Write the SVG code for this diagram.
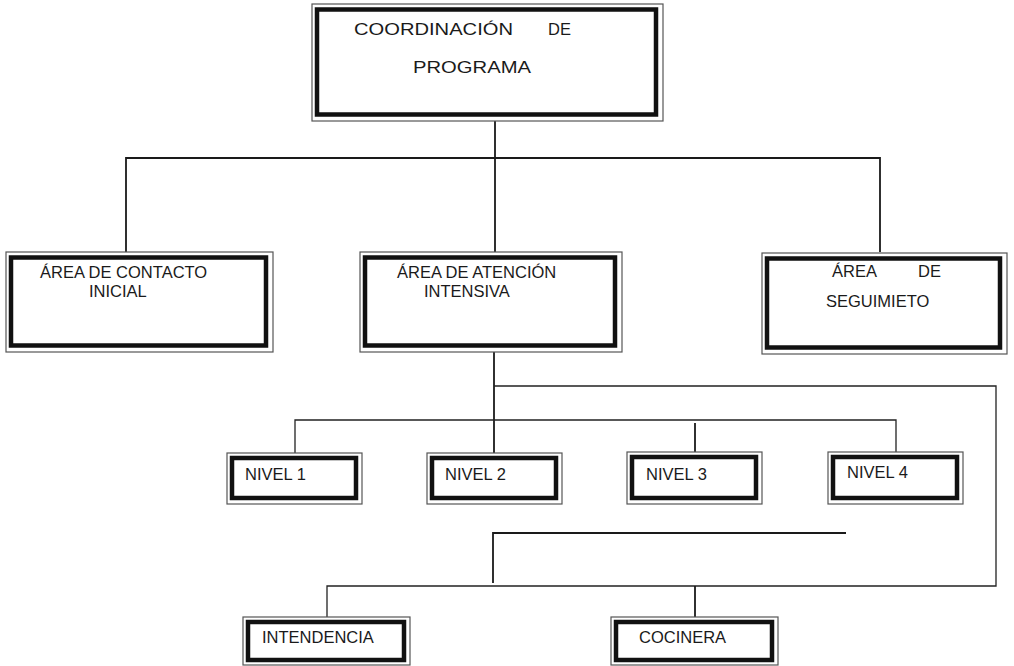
<svg xmlns="http://www.w3.org/2000/svg" width="1014" height="666" viewBox="0 0 1014 666">
<style>
.outer{fill:#fff;stroke:#555;stroke-width:1.2}
.inner{fill:#fff;stroke:#111;stroke-width:4.5}
.t{font-family:"Liberation Sans",Arial,sans-serif;font-size:16.5px;fill:#1a1a1a}
.c{fill:none;stroke:#1a1a1a;stroke-width:1.8}
.c2{fill:none;stroke:#222;stroke-width:1.3}
</style>
<rect width="1014" height="666" fill="#fff"/>
<g id="connectors">
<path class="c" d="M495 121V252M126 252V158H880V252"/>
<path class="c" d="M494 352V453"/>
<path class="c2" d="M494 386H996V586H327V617"/>
<path class="c2" d="M295 453V420H896V452"/>
<path class="c" d="M695 423V452"/>
<path class="c" d="M846 533H493V583"/>
<path class="c" d="M695 586V617"/>
</g>
<g id="coordinacion">
<rect class="outer" x="312" y="4" width="351" height="117"/>
<rect class="inner" x="317" y="9.5" width="339" height="105"/>
<text class="t" x="354" y="35" textLength="159" lengthAdjust="spacingAndGlyphs" font-size="17">COORDINACIÓN</text>
<text class="t" x="548" y="35" font-size="17">DE</text>
<text class="t" x="413" y="73" textLength="118" lengthAdjust="spacingAndGlyphs" font-size="17">PROGRAMA</text>
</g>
<g id="contacto">
<rect class="outer" x="6" y="252" width="267" height="100"/>
<rect class="inner" x="11" y="257.5" width="255" height="88"/>
<text class="t" x="40" y="278">ÁREA DE CONTACTO</text>
<text class="t" x="89" y="297">INICIAL</text>
</g>
<g id="atencion">
<rect class="outer" x="360" y="252" width="262" height="100"/>
<rect class="inner" x="365" y="257.5" width="250" height="88"/>
<text class="t" x="397" y="278">ÁREA DE ATENCIÓN</text>
<text class="t" x="424" y="297">INTENSIVA</text>
</g>
<g id="seguimiento">
<rect class="outer" x="762" y="253" width="245" height="101"/>
<rect class="inner" x="767" y="258.5" width="233" height="89"/>
<text class="t" x="832" y="277">ÁREA</text>
<text class="t" x="918" y="277">DE</text>
<text class="t" x="826" y="307">SEGUIMIETO</text>
</g>
<g id="nivel1">
<rect class="outer" x="227" y="453" width="135" height="51"/>
<rect class="inner" x="232" y="458" width="124" height="40"/>
<text class="t" x="245" y="480">NIVEL 1</text>
</g>
<g id="nivel2">
<rect class="outer" x="427" y="453" width="135" height="51"/>
<rect class="inner" x="432" y="458" width="124" height="40"/>
<text class="t" x="445" y="480">NIVEL 2</text>
</g>
<g id="nivel3">
<rect class="outer" x="627" y="452" width="135" height="52"/>
<rect class="inner" x="632" y="457" width="124" height="41"/>
<text class="t" x="646" y="480">NIVEL 3</text>
</g>
<g id="nivel4">
<rect class="outer" x="828" y="452" width="135" height="52"/>
<rect class="inner" x="833" y="457" width="124" height="41"/>
<text class="t" x="847" y="478">NIVEL 4</text>
</g>
<g id="intendencia">
<rect class="outer" x="243" y="617" width="167" height="48"/>
<rect class="inner" x="248" y="622" width="156" height="38"/>
<text class="t" x="262" y="643">INTENDENCIA</text>
</g>
<g id="cocinera">
<rect class="outer" x="611" y="617" width="167" height="48"/>
<rect class="inner" x="616" y="622" width="156" height="38"/>
<text class="t" x="639" y="643">COCINERA</text>
</g>
</svg>
